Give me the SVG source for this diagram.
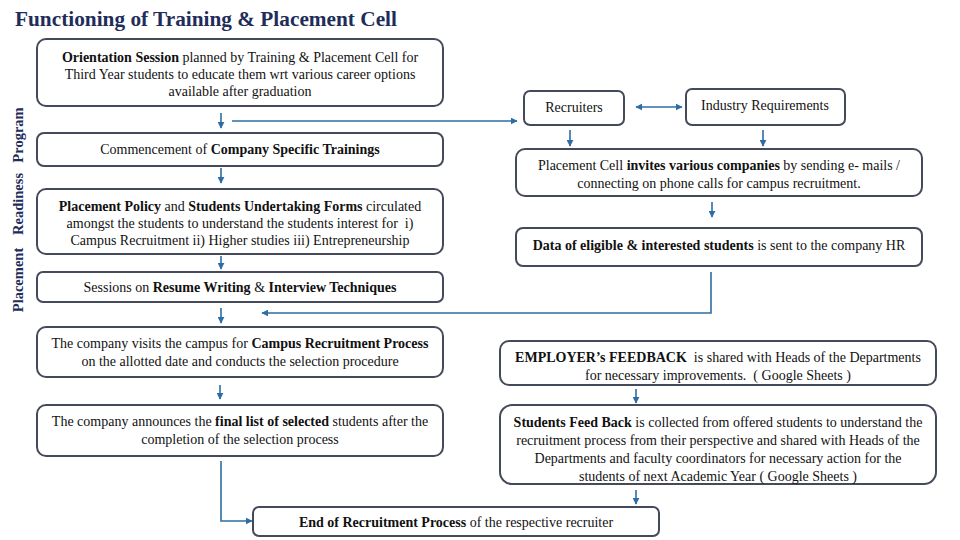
<svg xmlns="http://www.w3.org/2000/svg" width="960" height="540" viewBox="0 0 960 540">
<defs>
<marker id="ah" viewBox="0 0 10 10" refX="9" refY="5" markerWidth="7" markerHeight="7" markerUnits="userSpaceOnUse" orient="auto-start-reverse">
<path d="M0,0 L10,5 L0,10 z" fill="#2E6DA4"/>
</marker>
<style>
.box{fill:#ffffff;stroke:#454a5a;stroke-width:2}
.t{font-family:'Liberation Serif','DejaVu Serif',serif;font-size:14px;fill:#111;text-anchor:middle}
.b{font-weight:bold}
.ca{fill:none;stroke:#2E6DA4;stroke-width:1.6;marker-end:url(#ah)}
.side{font-family:'Liberation Serif','DejaVu Serif',serif;font-size:14.5px;font-weight:bold;fill:#1F2D5A;text-anchor:middle}
.title{font-family:'Liberation Serif','DejaVu Serif',serif;font-size:21.3px;font-weight:bold;fill:#1F2D5A}
</style>
</defs>
<rect width="960" height="540" fill="#ffffff"/>
<text class="title" x="15" y="26">Functioning of Training &amp; Placement Cell</text>

<g id="side-label">
<text class="side" transform="translate(23,135) rotate(-90)">Program</text>
<text class="side" transform="translate(23,204) rotate(-90)">Readiness</text>
<text class="side" transform="translate(23,280) rotate(-90)">Placement</text>
</g>

<g id="connectors">
<line class="ca" x1="221" y1="113" x2="221" y2="128"/>
<line class="ca" x1="232" y1="121" x2="517" y2="121"/>
<line class="ca" x1="221" y1="168" x2="221" y2="183"/>
<line class="ca" x1="221" y1="256" x2="221" y2="269"/>
<line class="ca" x1="221" y1="308" x2="221" y2="323"/>
<polyline class="ca" points="711,272 711,313 262,313"/>
<line class="ca" x1="220" y1="385" x2="220" y2="399"/>
<polyline class="ca" points="221,461 221,521 252,521"/>
<line class="ca" x1="570" y1="130" x2="570" y2="146"/>
<line class="ca" x1="763" y1="130" x2="763" y2="146"/>
<line class="ca" x1="636" y1="107" x2="682" y2="107" style="marker-start:url(#ah)"/>
<line class="ca" x1="712" y1="202" x2="712" y2="217"/>
<line class="ca" x1="636" y1="389" x2="636" y2="403"/>
<line class="ca" x1="636" y1="490" x2="636" y2="504"/>
</g>

<g id="orientation">
<rect class="box" x="37" y="39" width="406" height="67" rx="9"/>
<text class="t" x="240" y="62"><tspan class="b">Orientation Session</tspan> planned by Training &amp; Placement Cell for</text>
<text class="t" x="240" y="79">Third Year students to educate them wrt various career options</text>
<text class="t" x="240" y="96">available after graduation</text>
</g>

<g id="commencement">
<rect class="box" x="37" y="133" width="406" height="33" rx="7"/>
<text class="t" x="240" y="154">Commencement of <tspan class="b">Company Specific Trainings</tspan></text>
</g>

<g id="policy">
<rect class="box" x="37" y="189" width="406" height="65" rx="9"/>
<text class="t" x="240" y="211"><tspan class="b">Placement Policy</tspan> and <tspan class="b">Students Undertaking Forms</tspan> circulated</text>
<text class="t" x="240" y="228" xml:space="preserve">amongst the students to understand the students interest for  i)</text>
<text class="t" x="240" y="245">Campus Recruitment ii) Higher studies iii) Entrepreneurship</text>
</g>

<g id="sessions">
<rect class="box" x="37" y="272" width="406" height="30" rx="6"/>
<text class="t" x="240" y="292">Sessions on <tspan class="b">Resume Writing</tspan> &amp; <tspan class="b">Interview Techniques</tspan></text>
</g>

<g id="visit">
<rect class="box" x="37" y="327" width="406" height="50" rx="9"/>
<text class="t" x="240" y="348">The company visits the campus for <tspan class="b">Campus Recruitment Process</tspan></text>
<text class="t" x="240" y="366">on the allotted date and conducts the selection procedure</text>
</g>

<g id="announce">
<rect class="box" x="37" y="405" width="406" height="51" rx="9"/>
<text class="t" x="240" y="426">The company announces the <tspan class="b">final list of selected</tspan> students after the</text>
<text class="t" x="240" y="444">completion of the selection process</text>
</g>

<g id="end">
<rect class="box" x="253" y="507" width="406" height="29" rx="6"/>
<text class="t" x="456" y="527"><tspan class="b">End of Recruitment Process</tspan> of the respective recruiter</text>
</g>

<g id="recruiters">
<rect class="box" x="524" y="91" width="100" height="34" rx="6"/>
<text class="t" x="574" y="112">Recruiters</text>
</g>

<g id="industry">
<rect class="box" x="686" y="89" width="159" height="36" rx="6"/>
<text class="t" x="765" y="110">Industry Requirements</text>
</g>

<g id="invites">
<rect class="box" x="516" y="149" width="406" height="47" rx="9"/>
<text class="t" x="719" y="170">Placement Cell <tspan class="b">invites various companies</tspan> by sending e- mails /</text>
<text class="t" x="719" y="188">connecting on phone calls for campus recruitment.</text>
</g>

<g id="data">
<rect class="box" x="516" y="228" width="406" height="38" rx="7"/>
<text class="t" x="719" y="250"><tspan class="b">Data of eligible &amp; interested students</tspan> is sent to the company HR</text>
</g>

<g id="employer">
<rect class="box" x="500" y="341" width="436" height="44" rx="9"/>
<text class="t" x="718" y="362" xml:space="preserve"><tspan class="b">EMPLOYER’s FEEDBACK</tspan>  is shared with Heads of the Departments</text>
<text class="t" x="718" y="380" xml:space="preserve">for necessary improvements.  ( Google Sheets )</text>
</g>

<g id="students-feedback">
<rect class="box" x="500" y="405" width="436" height="79" rx="12"/>
<text class="t" x="718" y="427"><tspan class="b">Students Feed Back</tspan> is collected from offered students to understand the</text>
<text class="t" x="718" y="445">recruitment process from their perspective and shared with Heads of the</text>
<text class="t" x="718" y="463">Departments and faculty coordinators for necessary action for the</text>
<text class="t" x="718" y="481">students of next Academic Year ( Google Sheets )</text>
</g>
</svg>
